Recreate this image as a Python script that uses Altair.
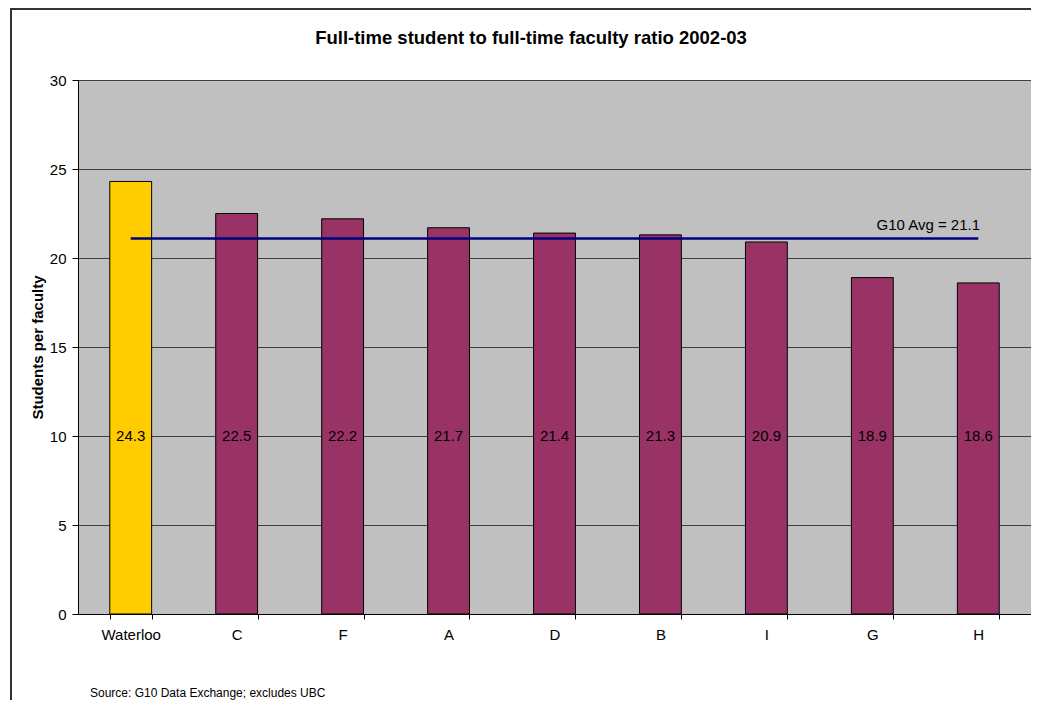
import altair as alt
import pandas as pd

categories = ["Waterloo", "C", "F", "A", "D", "B", "I", "G", "H"]
ratios = [24.3, 22.5, 22.2, 21.7, 21.4, 21.3, 20.9, 18.9, 18.6]
groups = ["Waterloo", "Other", "Other", "Other", "Other", "Other", "Other", "Other", "Other"]
label_level = 10
avg_value = 21.1
avg_label = "G10 Avg = 21.1"
y_ticks = [0, 5, 10, 15, 20, 25, 30]
title_text = "Full-time student to full-time faculty ratio 2002-03"
y_title = "Students per faculty"
source_text = "Source: G10 Data Exchange; excludes UBC"

FONT = "Liberation Sans"

df = pd.DataFrame({
    "school": categories,
    "ratio": ratios,
    "group": groups,
    "label_y": [label_level] * len(categories),
    "label": [f"{v:.1f}" for v in ratios],
})
avg_df = pd.DataFrame({
    "start": [categories[0]],
    "end": [categories[-1]],
    "avg": [avg_value],
    "label": [avg_label],
})

xscale = alt.Scale(domain=categories, paddingInner=0.605, paddingOuter=0.3)
yscale = alt.Scale(domain=[0, 30])

x_axis = alt.Axis(
    labelAngle=0, tickBand="extent", domainColor="black", tickColor="black",
    labelFontSize=15, labelPadding=8, tickSize=5, grid=False, labelColor="black",
    labelFont=FONT, domainWidth=1,
)
y_axis = alt.Axis(
    values=y_ticks, title=y_title, titleFontSize=15, titleFontWeight="bold",
    titleFont=FONT, titleColor="black", labelFontSize=15, labelFont=FONT,
    labelColor="black", gridColor="#404040", gridWidth=1, domainColor="black",
    tickColor="black", tickSize=6, labelPadding=6, titlePadding=4,
)

bars = alt.Chart(df).mark_bar(stroke="black", strokeWidth=1).encode(
    x=alt.X("school:N", scale=xscale, axis=x_axis, title=None),
    y=alt.Y("ratio:Q", scale=yscale, axis=y_axis),
    color=alt.Color("group:N", scale=alt.Scale(domain=["Waterloo", "Other"],
                                               range=["#FFCC00", "#993366"]), legend=None),
)

values = alt.Chart(df).mark_text(fontSize=15, font=FONT, color="black", baseline="middle").encode(
    x=alt.X("school:N", scale=xscale),
    y=alt.Y("label_y:Q", scale=yscale),
    text="label:N",
)

avg_rule = alt.Chart(avg_df).mark_rule(color="#000080", strokeWidth=2.5).encode(
    x=alt.X("start:N", scale=xscale),
    x2="end:N",
    y=alt.Y("avg:Q", scale=yscale),
)

avg_text = alt.Chart(avg_df).mark_text(fontSize=15, font=FONT, color="black",
                                       baseline="bottom", dx=-50, dy=-5).encode(
    x=alt.X("end:N", scale=xscale),
    y=alt.Y("avg:Q", scale=yscale),
    text="label:N",
)

frame_top = alt.Chart(avg_df).mark_rule(stroke="#333333", strokeWidth=2).encode(
    x=alt.value(-68), x2=alt.value(953), y=alt.value(-71),
)
frame_left = alt.Chart(avg_df).mark_rule(stroke="#333333", strokeWidth=2).encode(
    x=alt.value(-67), y=alt.value(-72), y2=alt.value(620),
)

title = alt.Chart(avg_df).mark_text(fontSize=18.5, font=FONT, fontWeight="bold", color="black",
                                    align="center", baseline="middle").encode(
    x=alt.value(453), y=alt.value(-42), text=alt.value(title_text),
)

source = alt.Chart(avg_df).mark_text(fontSize=12, font=FONT, color="black",
                                     align="left", baseline="middle").encode(
    x=alt.value(12), y=alt.value(613), text=alt.value(source_text),
)

chart = alt.layer(bars, values, avg_rule, avg_text, title, source, frame_top, frame_left).properties(
    width=953,
    height=534,
    autosize=alt.AutoSizeParams(type="none"),
    padding={"left": 70, "top": 72, "right": 0, "bottom": 86},
    background="white",
).configure_view(fill="#C0C0C0", stroke="#808080")

chart.save("out.html", embed_options={"renderer": "svg", "actions": False})
